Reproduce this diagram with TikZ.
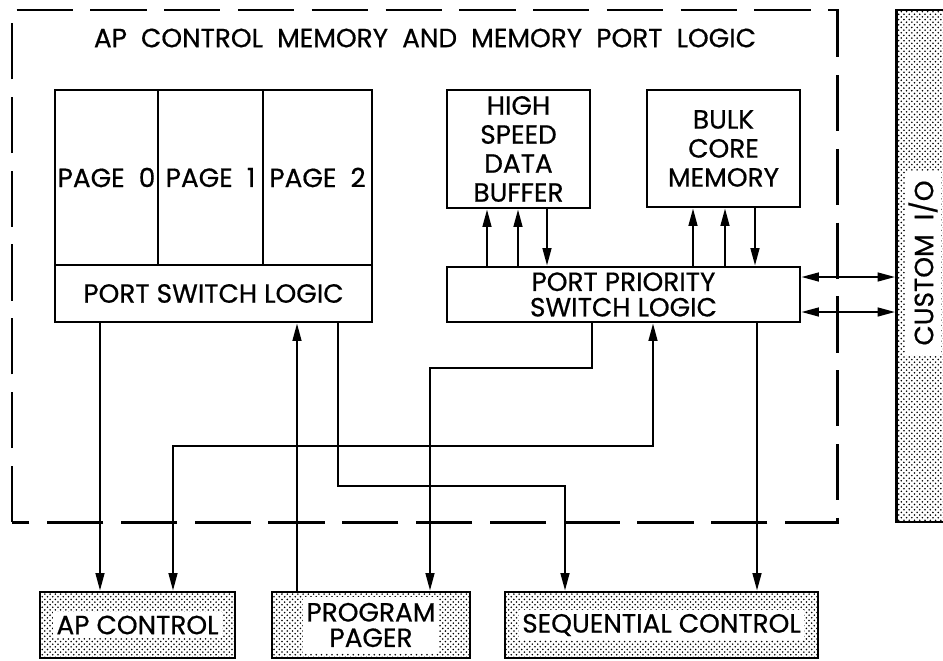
\documentclass[tikz,border=0pt]{standalone}
\usepackage{fontspec}
\setmainfont{Poppins}[FakeBold=0.6]
\usetikzlibrary{arrows.meta, patterns}

\begin{document}
\begin{tikzpicture}[x=0.02cm, y=-0.02cm, line join=miter,
  font=\fontsize{15}{16.5}\selectfont,
  box/.style={draw, line width=1.6pt, rectangle, inner sep=0pt, align=center},
  dotbox/.style={box, pattern=crosshatch dots, pattern color=black},
  label/.style={fill=white, inner sep=2pt, align=center},
  wire/.style={line width=1.2pt},
  tip/.style={-{Triangle[length=10pt, width=5pt]}},
  bitip/.style={{Triangle[length=10pt, width=5pt]}-{Triangle[length=10pt, width=5pt]}}]
  \useasboundingbox (0,0) rectangle (943,660);
  \draw[line width=1.7pt, dash pattern=on 32pt off 10pt] (12,522) -- (12,10) -- (837,10) -- (837,522) -- cycle;
  \node (title) at (425,38) {AP\ \ CONTROL\ \ MEMORY\ \ AND\ \ MEMORY\ \ PORT\ \ LOGIC};

  \node[box, minimum width=2.06cm, minimum height=3.5cm] (page0) at (106.5,177.5) {PAGE\ \ 0};
  \node[box, minimum width=2.10cm, minimum height=3.5cm] (page1) at (210.5,177.5) {PAGE\ \ 1};
  \node[box, minimum width=2.18cm, minimum height=3.5cm] (page2) at (317.5,177.5) {PAGE\ \ 2};
  \node[box, minimum width=6.34cm, minimum height=1.14cm] (psl) at (213.5,293.5) {PORT SWITCH LOGIC};
  \node[box, minimum width=2.86cm, minimum height=2.36cm] (hsdb) at (518.5,149) {HIGH\\SPEED\\DATA\\BUFFER};
  \node[box, minimum width=3.06cm, minimum height=2.34cm] (bcm) at (723.5,148.5) {BULK\\CORE\\MEMORY};
  \node[box, minimum width=7.06cm, minimum height=1.10cm] (ppsl) at (623.5,294.5) {PORT PRIORITY\\[-2pt]SWITCH LOGIC};

  \node[dotbox, minimum width=1.30cm, minimum height=10.24cm] (cio) at (929,266) {};
  \node[label, rotate=90, minimum width=3.7cm] (ciotext) at (923,263) {CUSTOM\ \ I/O};

  \node[dotbox, minimum width=3.90cm, minimum height=1.32cm] (apc) at (137.5,625) {};
  \node[label] at (apc) {AP CONTROL};
  \node[dotbox, minimum width=3.96cm, minimum height=1.32cm] (pager) at (371,625) {};
  \node[label, minimum width=2.6cm, minimum height=1.12cm] at (pager) {PROGRAM\\[-2pt]PAGER};
  \node[dotbox, minimum width=6.26cm, minimum height=1.32cm] (seq) at (661.5,625) {};
  \node[label] at (seq) {SEQUENTIAL CONTROL};

  \coordinate (a1) at (100,0);
  \coordinate (b1) at (173,446);
  \coordinate (b2) at (653,446);
  \coordinate (c1) at (297,0);
  \coordinate (d1) at (338,486);
  \coordinate (d2) at (565,486);
  \coordinate (e1) at (592,368);
  \coordinate (e2) at (430,368);
  \coordinate (f1) at (757,0);
  \coordinate (h1) at (487,0);
  \coordinate (h2) at (518,0);
  \coordinate (h3) at (547,0);
  \coordinate (m1) at (693,0);
  \coordinate (m2) at (725,0);
  \coordinate (m3) at (755,0);
  \coordinate (io1) at (0,277);
  \coordinate (io2) at (0,312);

  \draw[wire, tip] (psl.south -| a1) -- (apc.north -| a1);
  \draw[wire, bitip] (apc.north -| b1) -- (b1) -- (b2) -- (ppsl.south -| b2);
  \draw[wire, tip] (pager.north -| c1) -- (psl.south -| c1);
  \draw[wire, tip] (psl.south -| d1) -- (d1) -- (d2) -- (seq.north -| d2);
  \draw[wire, tip] (ppsl.south -| e1) -- (e1) -- (e2) -- (pager.north -| e2);
  \draw[wire, tip] (ppsl.south -| f1) -- (seq.north -| f1);

  \draw[wire, tip] (ppsl.north -| h1) -- (hsdb.south -| h1);
  \draw[wire, tip] (ppsl.north -| h2) -- (hsdb.south -| h2);
  \draw[wire, tip] (hsdb.south -| h3) -- (ppsl.north -| h3);
  \draw[wire, tip] (ppsl.north -| m1) -- (bcm.south -| m1);
  \draw[wire, tip] (ppsl.north -| m2) -- (bcm.south -| m2);
  \draw[wire, tip] (bcm.south -| m3) -- (ppsl.north -| m3);

  \draw[wire, bitip] (ppsl.east |- io1) -- (cio.west |- io1);
  \draw[wire, bitip] (ppsl.east |- io2) -- (cio.west |- io2);
\end{tikzpicture}
\end{document}
